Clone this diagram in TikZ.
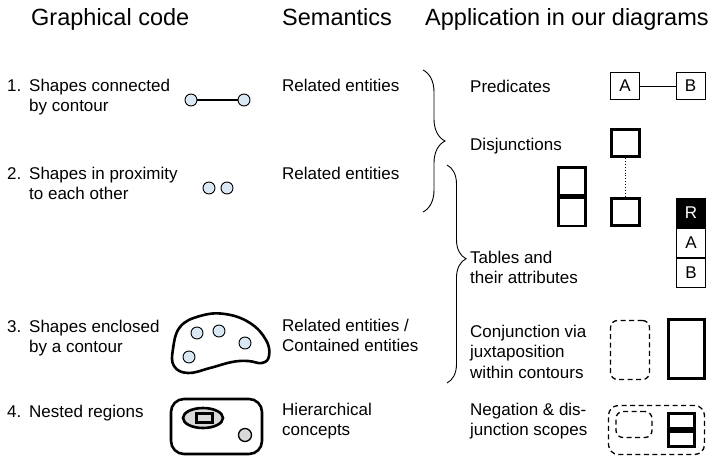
\documentclass[tikz,border=0pt]{standalone}
\usepackage{fontspec}
\setmainfont{Liberation Sans}
\usetikzlibrary{shapes,decorations.pathreplacing}
\definecolor{dotblue}{HTML}{DAE8F5}
\definecolor{regiongray}{HTML}{D9D9D9}

\begin{document}
\begin{tikzpicture}[x=1pt,y=-1pt]
\tikzset{
heading/.style={anchor=base west, inner sep=0, font=\fontsize{23.5}{28}\selectfont},
mylabel/.style={anchor=base west, inner sep=0, align=left, font=\fontsize{17}{20.5}\selectfont},
dotnode/.style={circle, draw=black, fill=dotblue, line width=0.9pt, minimum size=12pt, inner sep=0},
cell/.style={rectangle, draw=black, line width=0.9pt, minimum width=29pt, minimum height=27pt, inner sep=0, font=\fontsize{17}{20}\selectfont},
thickbox/.style={rectangle, draw=black, line width=2.6pt, inner sep=0},
dashbox/.style={rectangle, draw=black, line width=1.3pt, dash pattern=on 5pt off 3.5pt, rounded corners=7pt, inner sep=0},
mybrace/.style={decorate, decoration={brace, amplitude=#1}, line width=0.9pt},
}
\useasboundingbox (0,0) rectangle (712,458);

\node[heading] (hcode) at (31,25) {Graphical code};
\node[heading] (hsem) at (282,25) {Semantics};
\node[heading] (happ) at (425,25) {Application in our diagrams};

\node[mylabel] (num1) at (7,91) {1.};
\node[mylabel] (code1) at (29,111.5) {Shapes connected\\by contour};
\node[mylabel] (num2) at (7,179) {2.};
\node[mylabel] (code2) at (29,199.5) {Shapes in proximity\\to each other};
\node[mylabel] (num3) at (7,332) {3.};
\node[mylabel] (code3) at (29,352.5) {Shapes enclosed\\by a contour};
\node[mylabel] (num4) at (7,417) {4.};
\node[mylabel] (code4) at (29,417) {Nested regions};

\node[mylabel] (sem1) at (282,91) {Related entities};
\node[mylabel] (sem2) at (282,179) {Related entities};
\node[mylabel] (sem3) at (282,351.5) {Related entities /\\Contained entities};
\node[mylabel] (sem4) at (282,435.5) {Hierarchical\\concepts};

\node[mylabel] (app1) at (470,92) {Predicates};
\node[mylabel] (app2) at (470,150) {Disjunctions};
\node[mylabel] (app3) at (470,283.5) {Tables and\\their attributes};
\node[mylabel] (app4) at (470,378) {Conjunction via\\juxtaposition\\within contours};
\node[mylabel] (app5) at (470,435.5) {Negation \& dis-\\junction scopes};

\node[dotnode] (conna) at (191,100) {};
\node[dotnode, right of=conna, node distance=53pt] (connb) {};
\draw[line width=2.6pt] (conna) -- (connb);
\node[dotnode] (proxa) at (209,188) {};
\node[dotnode, right of=proxa, node distance=18pt] (proxb) {};

\draw[line width=2.6pt] plot[smooth cycle, tension=0.7] coordinates {(173,349) (180,327) (200,316) (225,314) (250,323) (266,340) (269,356) (262,363) (248,361) (232,362) (210,368) (188,373) (174,366)};
\node[dotnode] (encla) at (197,333) {};
\node[dotnode] (enclb) at (219,331) {};
\node[dotnode] (enclc) at (245,343) {};
\node[dotnode] (encld) at (189,357) {};

\node[thickbox, rounded corners=13pt, minimum width=91pt, minimum height=55pt] (nestouter) at (216.5,426.5) {};
\node[thickbox, ellipse, fill=regiongray, minimum width=40pt, minimum height=20pt] (nestoval) at (203,418) {};
\node[thickbox, minimum width=16pt, minimum height=9pt] (nestinner) at (204.5,418) {};
\node[circle, draw=black, fill=regiongray, line width=1.3pt, minimum size=13pt, inner sep=0] (nestdot) at (245,435) {};

\draw[mybrace=22pt] (423,70) -- (423,212);
\draw[mybrace=19pt, decoration={aspect=0.43}] (447,165) -- (447,383);

\node[cell] (preda) at (625,86) {A};
\node[cell, right of=preda, node distance=65.5pt] (predb) {B};
\draw[line width=0.9pt] (preda) -- (predb);

\node[thickbox, minimum width=28pt, minimum height=27.5pt] (disjtop) at (625.5,143) {};
\node[thickbox, minimum width=28pt, minimum height=27.5pt, below of=disjtop, node distance=69pt] (disjbot) {};
\draw[line width=0.9pt, dotted] (disjtop) -- (disjbot);

\node[thickbox, minimum width=27.5pt, minimum height=28pt] (tabtop) at (572,181.5) {};
\node[thickbox, minimum width=27.5pt, minimum height=28pt, below of=tabtop, node distance=30.5pt] (tabbot) {};

\node[cell, minimum height=29pt, fill=black, text=white] (attrr) at (691,213) {R};
\node[cell, minimum height=29pt, below of=attrr, node distance=30pt] (attra) {A};
\node[cell, minimum height=29pt, below of=attra, node distance=30pt] (attrb) {B};

\node[dashbox, minimum width=39pt, minimum height=59pt] (conjscope) at (630,350) {};
\node[thickbox, minimum width=36.5pt, minimum height=59.5pt] (conjtable) at (686.5,349) {};

\node[dashbox, rounded corners=10pt, minimum width=96pt, minimum height=49pt] (negouter) at (656.5,430) {};
\node[dashbox, minimum width=36pt, minimum height=26pt] (neginner) at (634,424.5) {};
\node[thickbox, minimum width=26.5pt, minimum height=15.5pt] (negtop) at (681.5,421) {};
\node[thickbox, minimum width=26.5pt, minimum height=15.5pt, below of=negtop, node distance=18pt] (negbot) {};
\end{tikzpicture}
\end{document}
